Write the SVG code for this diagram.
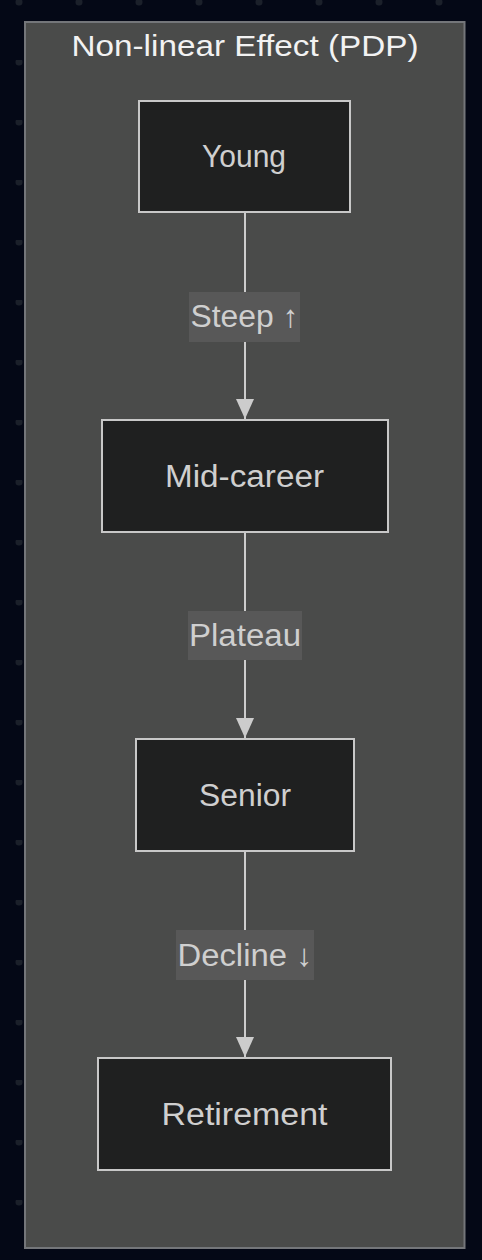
<svg xmlns="http://www.w3.org/2000/svg" width="482" height="1260" viewBox="0 0 482 1260">
<style>
.node rect{fill:#1f2020;stroke:#c8c8c8;stroke-width:2}
.ntext{font-family:"Liberation Sans",Arial,sans-serif;font-size:31px;fill:#cfcfcf;text-anchor:middle}
.edge{stroke:#cccccc;stroke-width:2;fill:none}
.lbg{fill:#585858}
.ltext{font-family:"Liberation Sans",Arial,sans-serif;font-size:31px;fill:#cfcfcf;text-anchor:middle}
.title{font-family:"Liberation Sans",Arial,sans-serif;font-size:29px;fill:#f2f2f2;text-anchor:middle}
</style>
<defs>
<pattern id="dots" x="0" y="0" width="60" height="60" patternUnits="userSpaceOnUse">
<circle cx="19" cy="2" r="3.5" fill="#1b202a"/>
</pattern>
<marker id="arrow" viewBox="0 0 20 18" refX="20" refY="9" markerWidth="20" markerHeight="18" markerUnits="userSpaceOnUse" orient="auto">
<path d="M0,0 L20,9 L0,18 z" fill="#cccccc"/>
</marker>
</defs>
<rect width="482" height="1260" fill="#040816"/>
<rect width="482" height="1260" fill="url(#dots)"/>
<g id="cluster">
<rect x="25" y="22" width="439.5" height="1226" fill="#4a4b4a" stroke="#74767a" stroke-width="2"/>
<text class="title" x="245" y="56" textLength="347" lengthAdjust="spacingAndGlyphs">Non-linear Effect (PDP)</text>
</g>
<g id="connectors">
<path class="edge" d="M245,212 V292 M245,342 V419" marker-end="url(#arrow)"/>
<path class="edge" d="M245,532 V611 M245,660 V738" marker-end="url(#arrow)"/>
<path class="edge" d="M245,851 V930 M245,980 V1057" marker-end="url(#arrow)"/>
<g id="label-steep"><rect class="lbg" x="189" y="292" width="111" height="50"/><text class="ltext" x="244.5" y="327" textLength="108" lengthAdjust="spacingAndGlyphs">Steep ↑</text></g>
<g id="label-plateau"><rect class="lbg" x="188" y="611" width="114" height="49"/><text class="ltext" x="245" y="646" textLength="112" lengthAdjust="spacingAndGlyphs">Plateau</text></g>
<g id="label-decline"><rect class="lbg" x="176" y="930" width="138" height="50"/><text class="ltext" x="245" y="966" textLength="135" lengthAdjust="spacingAndGlyphs">Decline ↓</text></g>
</g>
<g id="node-young" class="node"><rect x="139" y="101" width="211" height="111"/><text class="ntext" x="244" y="167" textLength="84" lengthAdjust="spacingAndGlyphs">Young</text></g>
<g id="node-mid" class="node"><rect x="102" y="420" width="286" height="112"/><text class="ntext" x="244.5" y="487" textLength="159" lengthAdjust="spacingAndGlyphs">Mid-career</text></g>
<g id="node-senior" class="node"><rect x="136" y="739" width="218" height="112"/><text class="ntext" x="245" y="806" textLength="92" lengthAdjust="spacingAndGlyphs">Senior</text></g>
<g id="node-retirement" class="node"><rect x="98" y="1058" width="293" height="112"/><text class="ntext" x="244.5" y="1125" textLength="166" lengthAdjust="spacingAndGlyphs">Retirement</text></g>
</svg>
